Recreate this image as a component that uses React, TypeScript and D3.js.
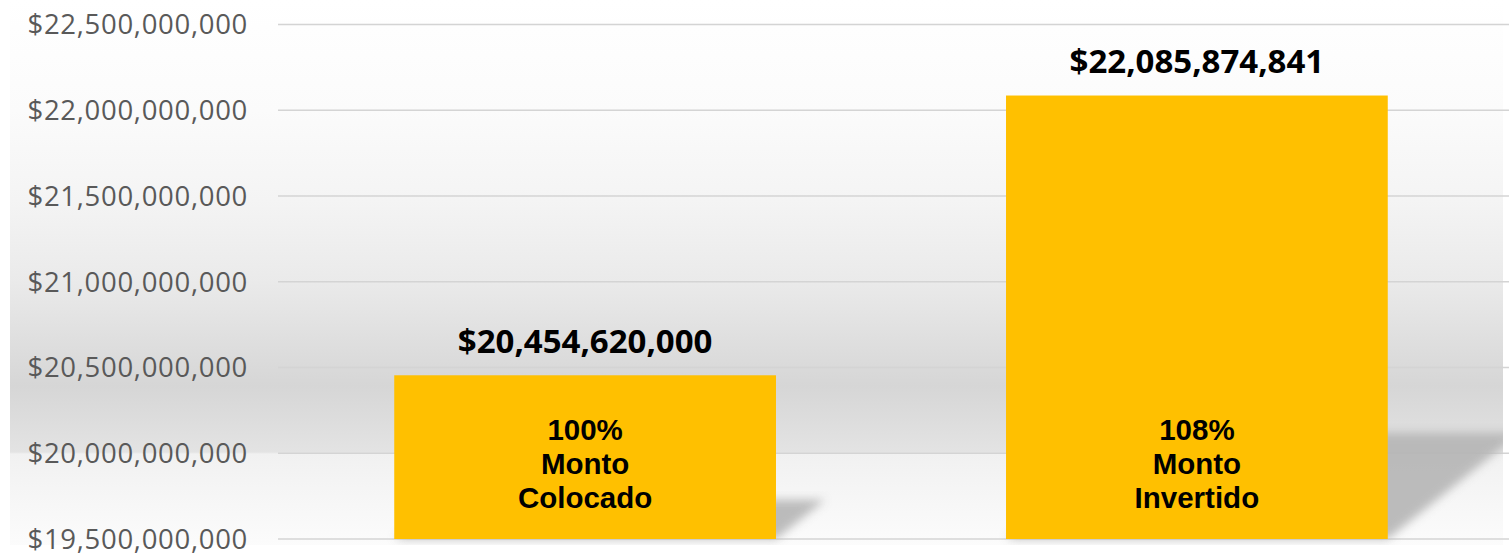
import React from "react";
import * as d3 from "d3";

const categories = ["Monto Colocado", "Monto Invertido"];
const values = [20454620000, 22085874841];
const percentLabels = ["100%", "108%"];
const innerLines = [["Monto", "Colocado"], ["Monto", "Invertido"]];
const yTicks = [19.5e9, 20e9, 20.5e9, 21e9, 21.5e9, 22e9, 22.5e9];

const W = 1509, H = 556;
const plotLeft = 278, plotRight = 1504;
const plotTop = 24.5, plotBottom = 539;

const App = () => {
    const y = d3.scaleLinear().domain([19.5e9, 22.5e9]).range([plotBottom, plotTop]);
    const x = d3.scaleBand<string>()
        .domain(categories)
        .range([plotLeft, plotRight])
        .paddingInner(0.376)
        .paddingOuter(0.19);

    const fmt = (v: number) => "$" + d3.format(",.0f")(v);

    return (
        <svg width={W} height={H} style={{position: "absolute", left: 0, top: 0}}>
            <defs>
                <linearGradient id="bg" x1="0" y1="0" x2="0" y2={H} gradientUnits="userSpaceOnUse">
                    <stop offset={0} stopColor="#ffffff"/>
                    <stop offset={110 / H} stopColor="#fbfbfb"/>
                    <stop offset={200 / H} stopColor="#f4f4f4"/>
                    <stop offset={282 / H} stopColor="#eaeaea"/>
                    <stop offset={386 / H} stopColor="#d6d6d6"/>
                    <stop offset={452 / H} stopColor="#e3e3e3"/>
                    <stop offset={454 / H} stopColor="#f1f1f1"/>
                    <stop offset={540 / H} stopColor="#fbfbfb"/>
                    <stop offset={1} stopColor="#fdfdfd"/>
                </linearGradient>
                <filter id="blur" x="-20%" y="-20%" width="140%" height="140%">
                    <feGaussianBlur stdDeviation="5"/>
                </filter>
                <clipPath id="panel">
                    <rect x={10} y={0} width={1493} height={545}/>
                </clipPath>
            </defs>
            <rect width={W} height={H} fill="#ffffff"/>
            <rect x={10} y={0} width={1493} height={545} fill="url(#bg)"/>

            {/* gridlines */}
            {yTicks.map(t => (
                <line key={t} x1={plotLeft} x2={W} y1={y(t)} y2={y(t)}
                      stroke="#d4d4d4" strokeWidth={1.3}/>
            ))}

            {/* y tick labels */}
            {yTicks.map(t => (
                <text key={"l" + t} x={248} y={y(t)} dy="0.36em" textAnchor="end"
                      fontFamily="Open Sans" fontSize={27.5} letterSpacing={0.7} fill="#595959">
                    {fmt(t)}
                </text>
            ))}

            {/* shadows */}
            <g clipPath="url(#panel)">
                {categories.map((c, i) => {
                    const x0 = x(c)!, x1 = x0 + x.bandwidth();
                    const h = plotBottom - y(values[i]);
                    const dx = 0.3 * h, dy = 0.24 * h;
                    const pts = [[x0, plotBottom], [x1, plotBottom], [x1 + dx, plotBottom - dy], [x0 + dx, plotBottom - dy]];
                    return (
                        <polygon key={"s" + c} points={pts.map(p => p.join(",")).join(" ")}
                                 fill="#b5b5b5" opacity={0.9} filter="url(#blur)"/>
                    );
                })}
            </g>

            {/* bars */}
            {categories.map((c, i) => (
                <rect key={c} x={x(c)} y={y(values[i])} width={x.bandwidth()}
                      height={plotBottom - y(values[i])} fill="#ffc000"/>
            ))}

            {/* value labels */}
            {categories.map((c, i) => (
                <text key={"v" + c} x={x(c)! + x.bandwidth() / 2} y={y(values[i]) - 22.5}
                      textAnchor="middle" fontFamily="Open Sans" fontWeight="bold"
                      fontSize={33} fill="#000000">
                    {fmt(values[i])}
                </text>
            ))}

            {/* inner labels */}
            {categories.map((c, i) => {
                const cx = x(c)! + x.bandwidth() / 2;
                const lines = [percentLabels[i], ...innerLines[i]];
                return (
                    <text key={"i" + c} textAnchor="middle" fontFamily="Liberation Sans"
                          fontWeight="bold" fontSize={29.5} fill="#000000">
                        {lines.map((ln, k) => (
                            <tspan key={k} x={cx} y={plotBottom - 99 + k * 34}>{ln}</tspan>
                        ))}
                    </text>
                );
            })}
        </svg>
    );
};

export default App;
